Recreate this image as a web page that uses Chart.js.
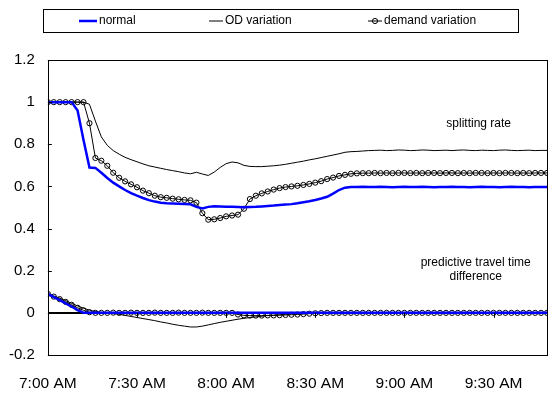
<!DOCTYPE html>
<html>
<head>
<meta charset="utf-8">
<script src="https://cdn.jsdelivr.net/npm/chart.js@4.4.1/dist/chart.umd.min.js"></script>
<style>
  html, body { margin: 0; padding: 0; background: #fff; }
</style>
</head>
<body>
<canvas id="chart" width="555" height="394"></canvas>
<script>
// minutes after 7:00, one sample every 2 minutes
const minutes = [
  0, 2, 4, 6, 8, 10, 12, 14, 16, 18,
  20, 22, 24, 26, 28, 30, 32, 34, 36, 38,
  40, 42, 44, 46, 48, 50, 52, 54, 56, 58,
  60, 62, 64, 66, 68, 70, 72, 74, 76, 78,
  80, 82, 84, 86, 88, 90, 92, 94, 96, 98,
  100, 102, 104, 106, 108, 110, 112, 114, 116, 118,
  120, 122, 124, 126, 128, 130, 132, 134, 136, 138,
  140, 142, 144, 146, 148, 150, 152, 154, 156, 158,
  160, 162, 164, 166, 168
];

// splitting rate
const normalSplit = [
  1, 1, 1, 1, 1, 0.96, 0.82, 0.69, 0.688, 0.665,
  0.64, 0.618, 0.6, 0.583, 0.568, 0.556, 0.545, 0.535, 0.528, 0.523,
  0.52, 0.519, 0.518, 0.517, 0.515, 0.503, 0.495, 0.503, 0.506, 0.505,
  0.504, 0.503, 0.502, 0.501, 0.502, 0.503, 0.505, 0.507, 0.509, 0.512,
  0.514, 0.516, 0.52, 0.525, 0.53, 0.536, 0.543, 0.551, 0.566, 0.583,
  0.594, 0.597, 0.597, 0.598, 0.597, 0.597, 0.598, 0.597, 0.596, 0.597,
  0.598, 0.597, 0.597, 0.598, 0.597, 0.596, 0.597, 0.597, 0.598, 0.597,
  0.597, 0.596, 0.597, 0.598, 0.597, 0.597, 0.596, 0.597, 0.598, 0.597,
  0.597, 0.596, 0.597, 0.597, 0.597
];
const odSplit = [
  1, 1, 1, 1, 1, 1, 1, 0.99, 0.91, 0.835,
  0.795, 0.77, 0.753, 0.738, 0.727, 0.717, 0.707, 0.698, 0.692, 0.686,
  0.68, 0.675, 0.67, 0.664, 0.66, 0.667, 0.659, 0.652, 0.668, 0.69,
  0.708, 0.716, 0.712, 0.7, 0.695, 0.694, 0.694, 0.696, 0.698, 0.701,
  0.705, 0.71, 0.715, 0.72, 0.726, 0.731, 0.737, 0.743, 0.749, 0.755,
  0.762, 0.765, 0.766, 0.768, 0.77, 0.771, 0.772, 0.77, 0.771, 0.773,
  0.772, 0.77, 0.771, 0.773, 0.772, 0.77, 0.771, 0.772, 0.77, 0.772,
  0.773, 0.771, 0.77, 0.772, 0.771, 0.77, 0.772, 0.773, 0.771, 0.77,
  0.771, 0.772, 0.77, 0.771, 0.771
];
const demandSplit = [
  1, 1, 1, 1, 1, 1, 1, 0.9, 0.735, 0.722,
  0.698, 0.665, 0.641, 0.624, 0.61, 0.596, 0.58, 0.568, 0.556, 0.549,
  0.546, 0.542, 0.539, 0.536, 0.534, 0.523, 0.473, 0.442, 0.444, 0.45,
  0.458, 0.462, 0.466, 0.494, 0.54, 0.556, 0.567, 0.576, 0.585, 0.592,
  0.597, 0.6, 0.603, 0.607, 0.612, 0.618, 0.625, 0.635, 0.642, 0.65,
  0.655, 0.66, 0.662, 0.663, 0.663, 0.664, 0.663, 0.664, 0.663, 0.664,
  0.664, 0.663, 0.664, 0.663, 0.664, 0.664, 0.663, 0.664, 0.664, 0.663,
  0.664, 0.663, 0.664, 0.664, 0.663, 0.664, 0.663, 0.664, 0.664, 0.663,
  0.664, 0.663, 0.664, 0.664, 0.664
];

// predictive travel time difference
const normalDiff = [
  0.09, 0.075, 0.06, 0.045, 0.03, 0.013, 0, 0, 0, 0,
  0, 0, 0, 0, 0, 0, 0, 0, 0, 0,
  0, 0, 0, 0, 0, 0, 0, 0, 0, 0,
  0, 0, 0, 0, 0, 0, 0, 0, 0, 0,
  0, 0, 0, 0, 0, 0, 0, 0, 0, 0,
  0, 0, 0, 0, 0, 0, 0, 0, 0, 0,
  0, 0, 0, 0, 0, 0, 0, 0, 0, 0,
  0, 0, 0, 0, 0, 0, 0, 0, 0, 0,
  0, 0, 0, 0, 0
];
const odDiff = [
  0.09, 0.08, 0.07, 0.058, 0.045, 0.033, 0.022, 0.013, 0.006, 0.002,
  0, -0.003, -0.007, -0.012, -0.017, -0.022, -0.027, -0.032, -0.037, -0.043,
  -0.048, -0.054, -0.059, -0.063, -0.067, -0.067, -0.063, -0.057, -0.051, -0.045,
  -0.04, -0.035, -0.03, -0.026, -0.022, -0.019, -0.016, -0.013, -0.011, -0.009,
  -0.007, -0.005, -0.004, -0.003, -0.002, -0.001, 0, 0, 0, 0,
  0, 0, 0, 0, 0, 0, 0, 0, 0, 0,
  0, 0, 0, 0, 0, 0, 0, 0, 0, 0,
  0, 0, 0, 0, 0, 0, 0, 0, 0, 0,
  0, 0, 0, 0, 0
];
const demandDiff = [
  0.09, 0.077, 0.065, 0.052, 0.038, 0.024, 0.012, 0.003, 0, 0,
  0, 0.001, 0, 0, 0.001, 0, 0, 0, 0.001, 0,
  0, 0, 0.001, 0, 0, 0, 0.001, 0, 0, 0,
  0, 0, -0.008, -0.012, -0.013, -0.013, -0.013, -0.012, -0.012, -0.011,
  -0.01, -0.009, -0.008, -0.006, -0.004, -0.002, -0.001, 0, 0, 0,
  0, 0, 0, 0, 0, 0, 0, 0, 0, 0,
  0, 0, 0, 0, 0, 0, 0, 0, 0, 0,
  0, 0, 0, 0, 0, 0, 0, 0, 0, 0,
  0, 0, 0, 0, 0
];

const seriesNames = ['normal', 'OD variation', 'demand variation'];
const FONT = 'Liberation Sans, Arial, sans-serif';

function pts(values) {
  return values.map((v, i) => ({ x: minutes[i], y: v }));
}
function timeLabel(m) {
  const h = 7 + Math.floor(m / 60);
  const mm = m % 60;
  return h + ':' + (mm < 10 ? '0' : '') + mm + ' AM';
}

const normalStyle = { borderColor: '#0000ff', borderWidth: 2.5, pointRadius: 0 };
const odStyle = { borderColor: '#000', borderWidth: 1, pointRadius: 0 };
const demandStyle = {
  borderColor: '#000', borderWidth: 1, pointRadius: 2.6, pointStyle: 'circle',
  pointBorderColor: '#000', pointBackgroundColor: 'rgba(0,0,0,0)', pointBorderWidth: 1
};

// frame, inward ticks, legend box and text notes
const decorPlugin = {
  id: 'decor',
  afterDraw(chart, args, opts) {
    const ctx = chart.ctx;
    const a = chart.chartArea;
    const xs = chart.scales.x, ys = chart.scales.y;
    ctx.save();
    ctx.strokeStyle = '#000';
    ctx.lineWidth = 1;
    ctx.strokeRect(Math.round(a.left) + 0.5, Math.round(a.top) + 0.5,
      Math.round(a.right - a.left), Math.round(a.bottom - a.top));

    ctx.beginPath();
    ys.ticks.forEach(t => {
      const y = Math.round(ys.getPixelForValue(t.value)) + 0.5;
      ctx.moveTo(a.left, y); ctx.lineTo(a.left + 4, y);
    });
    const y0 = ys.getPixelForValue(0);
    xs.ticks.forEach(t => {
      const x = Math.round(xs.getPixelForValue(t.value)) + 0.5;
      ctx.moveTo(x, y0); ctx.lineTo(x, y0 + 5);
    });
    ctx.stroke();

    // notes
    ctx.fillStyle = '#000';
    ctx.font = '12px ' + FONT;
    ctx.textAlign = 'center';
    ctx.textBaseline = 'middle';
    opts.notes.forEach(n => {
      ctx.fillText(n.text, xs.getPixelForValue(n.x), ys.getPixelForValue(n.y));
    });

    // legend
    const L = opts.legend;
    ctx.strokeRect(L.left + 0.5, L.top + 0.5, L.width, L.height);
    const cy = L.top + L.height / 2 + 0.5;
    ctx.textAlign = 'left';
    L.items.forEach((it, i) => {
      const ds = chart.data.datasets[i];
      ctx.beginPath();
      ctx.strokeStyle = ds.borderColor;
      ctx.lineWidth = ds.borderWidth;
      ctx.moveTo(it.x0, cy); ctx.lineTo(it.x1, cy);
      ctx.stroke();
      if (ds.pointRadius > 0) {
        ctx.beginPath();
        ctx.lineWidth = 1;
        ctx.arc((it.x0 + it.x1) / 2, cy, ds.pointRadius, 0, Math.PI * 2);
        ctx.stroke();
      }
      ctx.fillStyle = '#000';
      ctx.fillText(ds.label, it.x1 + 2, cy);
    });
    ctx.restore();
  }
};

new Chart(document.getElementById('chart'), {
  type: 'line',
  data: {
    datasets: [
      Object.assign({ label: seriesNames[0], data: pts(normalSplit) }, normalStyle),
      Object.assign({ label: seriesNames[1], data: pts(odSplit) }, odStyle),
      Object.assign({ label: seriesNames[2], data: pts(demandSplit) }, demandStyle),
      Object.assign({ label: seriesNames[0], data: pts(normalDiff) }, normalStyle),
      Object.assign({ label: seriesNames[1], data: pts(odDiff) }, odStyle),
      Object.assign({ label: seriesNames[2], data: pts(demandDiff) }, demandStyle)
    ]
  },
  options: {
    responsive: false,
    animation: false,
    devicePixelRatio: 1,
    layout: { padding: { top: 60, right: 8, left: 0, bottom: 0 } },
    elements: { line: { tension: 0, fill: false } },
    plugins: {
      legend: { display: false },
      tooltip: { enabled: false },
      decor: {
        notes: [
          { text: 'splitting rate', x: 145, y: 0.9 },
          { text: 'predictive travel time', x: 144, y: 0.237 },
          { text: 'difference', x: 144, y: 0.17 }
        ],
        legend: {
          left: 43, top: 9, width: 475, height: 23,
          items: [{ x0: 79, x1: 97 }, { x0: 209, x1: 223 }, { x0: 368, x1: 382 }]
        }
      }
    },
    scales: {
      x: {
        type: 'linear',
        min: 0,
        max: 168,
        grid: { display: false, drawTicks: false },
        border: { display: false },
        ticks: {
          stepSize: 30, includeBounds: false, padding: 19, maxRotation: 0, autoSkip: false,
          color: '#000', font: { family: FONT, size: 15.5 },
          callback: v => timeLabel(v)
        },
        afterFit: s => { s.height = 39; }
      },
      y: {
        min: -0.2,
        max: 1.2,
        grid: {
          drawTicks: false,
          color: c => Math.abs(c.tick.value) < 1e-9 ? '#000' : 'rgba(0,0,0,0)',
          lineWidth: c => Math.abs(c.tick.value) < 1e-9 ? 2 : 1
        },
        border: { display: false },
        ticks: {
          stepSize: 0.2, padding: 13, color: '#000', font: { family: FONT, size: 15 },
          callback: v => String(Math.round(v * 10) / 10)
        },
        afterFit: s => { s.width = 46; }
      }
    }
  },
  plugins: [decorPlugin]
});
</script>
</body>
</html>
